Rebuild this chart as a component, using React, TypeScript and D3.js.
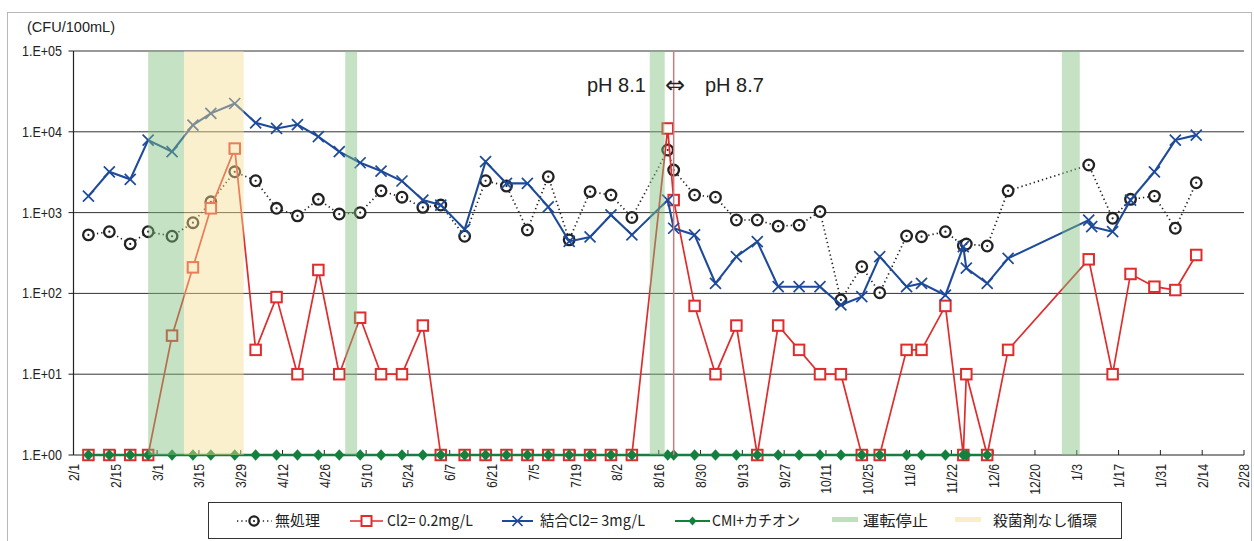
import React from "react";
import * as d3 from "d3";

// ---- data ----
const untreated: [string, number][] = [
  ["2010-02-06", 530], ["2010-02-13", 580], ["2010-02-20", 410], ["2010-02-26", 580],
  ["2010-03-06", 510], ["2010-03-13", 750], ["2010-03-19", 1360], ["2010-03-27", 3200],
  ["2010-04-03", 2480], ["2010-04-10", 1130], ["2010-04-17", 910], ["2010-04-24", 1460],
  ["2010-05-01", 960], ["2010-05-08", 1000], ["2010-05-15", 1860], ["2010-05-22", 1550],
  ["2010-05-29", 1160], ["2010-06-04", 1240], ["2010-06-12", 510], ["2010-06-19", 2480],
  ["2010-06-26", 2130], ["2010-07-03", 610], ["2010-07-10", 2780], ["2010-07-17", 460],
  ["2010-07-24", 1820], ["2010-07-31", 1650], ["2010-08-07", 870], ["2010-08-19", 5950],
  ["2010-08-21", 3360], ["2010-08-28", 1650], ["2010-09-04", 1550], ["2010-09-11", 810],
  ["2010-09-18", 810], ["2010-09-25", 680], ["2010-10-02", 700], ["2010-10-09", 1030],
  ["2010-10-16", 83], ["2010-10-23", 214], ["2010-10-29", 102], ["2010-11-07", 513],
  ["2010-11-12", 503], ["2010-11-20", 580], ["2010-11-26", 390], ["2010-11-27", 408],
  ["2010-12-04", 386], ["2010-12-11", 1860], ["2011-01-07", 3880], ["2011-01-15", 850],
  ["2011-01-21", 1460], ["2011-01-29", 1600], ["2011-02-05", 640], ["2011-02-12", 2340],
];

const cl02: [string, number][] = [
  ["2010-02-06", 1], ["2010-02-13", 1], ["2010-02-20", 1], ["2010-02-26", 1],
  ["2010-03-06", 30], ["2010-03-13", 210], ["2010-03-19", 1130], ["2010-03-27", 6200],
  ["2010-04-03", 20], ["2010-04-10", 90], ["2010-04-17", 10], ["2010-04-24", 195],
  ["2010-05-01", 10], ["2010-05-08", 50], ["2010-05-15", 10], ["2010-05-22", 10],
  ["2010-05-29", 40], ["2010-06-04", 1], ["2010-06-12", 1], ["2010-06-19", 1],
  ["2010-06-26", 1], ["2010-07-03", 1], ["2010-07-10", 1], ["2010-07-17", 1],
  ["2010-07-24", 1], ["2010-07-31", 1], ["2010-08-07", 1], ["2010-08-19", 11000],
  ["2010-08-21", 1430], ["2010-08-28", 70], ["2010-09-04", 10], ["2010-09-11", 40],
  ["2010-09-18", 1], ["2010-09-25", 40], ["2010-10-02", 20], ["2010-10-09", 10],
  ["2010-10-16", 10], ["2010-10-23", 1], ["2010-10-29", 1], ["2010-11-07", 20],
  ["2010-11-12", 20], ["2010-11-20", 70], ["2010-11-26", 1], ["2010-11-27", 10],
  ["2010-12-04", 1], ["2010-12-11", 20], ["2011-01-07", 264], ["2011-01-15", 10],
  ["2011-01-21", 174], ["2011-01-29", 121], ["2011-02-05", 110], ["2011-02-12", 299],
];

const combinedCl3: [string, number][] = [
  ["2010-02-06", 1600], ["2010-02-13", 3200], ["2010-02-20", 2580], ["2010-02-26", 7900],
  ["2010-03-06", 5670], ["2010-03-13", 12100], ["2010-03-19", 16900], ["2010-03-27", 22400],
  ["2010-04-03", 12900], ["2010-04-10", 11000], ["2010-04-17", 12300], ["2010-04-24", 8700],
  ["2010-05-01", 5670], ["2010-05-08", 4140], ["2010-05-15", 3270], ["2010-05-22", 2460],
  ["2010-05-29", 1430], ["2010-06-04", 1240], ["2010-06-12", 620], ["2010-06-19", 4270],
  ["2010-06-26", 2300], ["2010-07-03", 2300], ["2010-07-10", 1180], ["2010-07-17", 440],
  ["2010-07-24", 500], ["2010-07-31", 935], ["2010-08-07", 530], ["2010-08-19", 1430],
  ["2010-08-21", 640], ["2010-08-28", 530], ["2010-09-04", 133], ["2010-09-11", 285],
  ["2010-09-18", 437], ["2010-09-25", 121], ["2010-10-02", 121], ["2010-10-09", 121],
  ["2010-10-16", 72], ["2010-10-23", 91], ["2010-10-29", 285], ["2010-11-07", 121],
  ["2010-11-12", 133], ["2010-11-20", 95], ["2010-11-26", 379], ["2010-11-27", 205],
  ["2010-12-04", 133], ["2010-12-11", 272], ["2011-01-07", 809], ["2011-01-08", 670],
  ["2011-01-15", 580], ["2011-01-21", 1430], ["2011-01-29", 3200], ["2011-02-05", 7900],
  ["2011-02-12", 9100],
];

const cmiCation: [string, number][] = [
  ["2010-02-06", 1], ["2010-02-13", 1], ["2010-02-20", 1], ["2010-02-26", 1],
  ["2010-03-06", 1], ["2010-03-13", 1], ["2010-03-19", 1], ["2010-03-27", 1],
  ["2010-04-03", 1], ["2010-04-10", 1], ["2010-04-17", 1], ["2010-04-24", 1],
  ["2010-05-01", 1], ["2010-05-08", 1], ["2010-05-15", 1], ["2010-05-22", 1],
  ["2010-05-29", 1], ["2010-06-04", 1], ["2010-06-12", 1], ["2010-06-19", 1],
  ["2010-06-26", 1], ["2010-07-03", 1], ["2010-07-10", 1], ["2010-07-17", 1],
  ["2010-07-24", 1], ["2010-07-31", 1], ["2010-08-07", 1], ["2010-08-19", 1],
  ["2010-08-21", 1], ["2010-08-28", 1], ["2010-09-04", 1], ["2010-09-11", 1],
  ["2010-09-18", 1], ["2010-09-25", 1], ["2010-10-02", 1], ["2010-10-09", 1],
  ["2010-10-16", 1], ["2010-10-23", 1], ["2010-10-29", 1], ["2010-11-07", 1],
  ["2010-11-12", 1], ["2010-11-20", 1], ["2010-11-26", 1], ["2010-11-27", 1],
  ["2010-12-04", 1],
];

// shaded periods
const stopPeriods: [string, string][] = [
  ["2010-02-26", "2010-03-10"],
  ["2010-05-03", "2010-05-07"],
  ["2010-08-13", "2010-08-18"],
  ["2010-12-29", "2011-01-04"],
];
const noBiocidePeriods: [string, string][] = [["2010-03-10", "2010-03-30"]];
const phChangeDate = "2010-08-21";

const axisStart = "2010-02-01";
const axisEnd = "2011-02-28";
const xTickLabels = [
  "2/1", "2/15", "3/1", "3/15", "3/29", "4/12", "4/26", "5/10", "5/24", "6/7",
  "6/21", "7/5", "7/19", "8/2", "8/16", "8/30", "9/13", "9/27", "10/11", "10/25",
  "11/8", "11/22", "12/6", "12/20", "1/3", "1/17", "1/31", "2/14", "2/28",
];
const yTickValues = [1, 10, 100, 1000, 10000, 100000];
const yTickLabels = ["1.E+00", "1.E+01", "1.E+02", "1.E+03", "1.E+04", "1.E+05"];

const legendLabels = ["無処理", "Cl2= 0.2mg/L", "結合Cl2= 3mg/L", "CMI+カチオン", "運転停止", "殺菌剤なし循環"];

// ---- styling ----
const W = 1254, H = 541;
const LATIN = "'Liberation Sans', Arial, sans-serif";
const JP = "'Noto Sans CJK JP', 'Noto Sans', sans-serif";
const C_BLACK = "#222222";
const C_RED = "#e02c2c";
const C_BLUE = "#1d4a9b";
const C_GREEN = "#15803e";
const C_STOP = "rgb(128,191,124)";
const C_NOBIO = "rgb(244,222,144)";

const parse = d3.utcParse("%Y-%m-%d");
const pd = (s: string) => parse(s) as Date;

export default function App() {
  const x = d3.scaleUtc().domain([pd(axisStart), pd(axisEnd)]).range([73.5, 1244]);
  const y = d3.scaleLog().domain([1, 100000]).range([455, 51]);
  const x0 = x.range()[0], x1 = x.range()[1];
  const yTop = y(100000), yBot = y(1);

  const line = d3
    .line<[string, number]>()
    .x((d) => x(pd(d[0])))
    .y((d) => y(d[1]));

  const tickDates = xTickLabels.map((_, i) => d3.utcDay.offset(pd(axisStart), i * 14));

  const circleMarker = (cx: number, cy: number, key: any, r = 5.3) => (
    <g key={key}>
      <circle cx={cx} cy={cy} r={r} fill="#fff" stroke={C_BLACK} strokeWidth={2.3} />
      <circle cx={cx} cy={cy} r={1.1} fill={C_BLACK} />
    </g>
  );
  const squareMarker = (cx: number, cy: number, key: any, s = 10.5) => (
    <rect key={key} x={cx - s / 2} y={cy - s / 2} width={s} height={s} fill="#fff" stroke={C_RED} strokeWidth={2} />
  );
  const xMarker = (cx: number, cy: number, key: any, s = 5.5) => (
    <path key={key} d={`M${cx - s},${cy - s}L${cx + s},${cy + s}M${cx - s},${cy + s}L${cx + s},${cy - s}`} stroke={C_BLUE} strokeWidth={1.7} fill="none" />
  );
  const diamondMarker = (cx: number, cy: number, key: any, s = 5.2) => (
    <path key={key} d={`M${cx},${cy - s - 0.6}L${cx + s},${cy}L${cx},${cy + s + 0.6}L${cx - s},${cy}Z`} fill={C_GREEN} />
  );

  const ly = 521;

  return (
    <svg width={W} height={H} style={{ position: "absolute", left: 0, top: 0, background: "#fff" }}>
      <rect x={0} y={0} width={W} height={H} fill="#fff" />
      {/* outer frame */}
      <rect x={7.5} y={12.5} width={1244} height={540} fill="none" stroke="#b8b8b8" strokeWidth={1} />

      {/* unit */}
      <text x={27} y={32} fontFamily={LATIN} fontSize={14} fill="#222" textLength={88} lengthAdjust="spacingAndGlyphs">
        (CFU/100mL)
      </text>

      {/* gridlines */}
      {yTickValues.slice(1).map((v) => (
        <line key={v} x1={x0} x2={x1} y1={y(v)} y2={y(v)} stroke="#333" strokeWidth={1} />
      ))}

      {/* y axis */}
      <line x1={x0} x2={x0} y1={yTop} y2={yBot} stroke="#222" strokeWidth={1.2} />
      {yTickValues.map((v, i) => (
        <g key={v}>
          <line x1={x0 - 5} x2={x0} y1={y(v)} y2={y(v)} stroke="#222" strokeWidth={1} />
          <text x={62} y={y(v)} dy="0.36em" textAnchor="end" fontFamily={LATIN} fontSize={14} fill="#222" textLength={40} lengthAdjust="spacingAndGlyphs">
            {yTickLabels[i]}
          </text>
        </g>
      ))}

      {/* x axis */}
      <line x1={x0} x2={x1} y1={yBot} y2={yBot} stroke="#222" strokeWidth={1.2} />
      {tickDates.map((d, i) => (
        <g key={i}>
          <line x1={x(d)} x2={x(d)} y1={yBot - 5} y2={yBot} stroke="#222" strokeWidth={1} />
          <text
            transform={`translate(${x(d)},${yBot + 9}) rotate(-90) scale(0.82,1)`}
            textAnchor="end"
            dy="0.36em"
            fontFamily={LATIN}
            fontSize={15}
            fill="#222"
          >
            {xTickLabels[i]}
          </text>
        </g>
      ))}

      {/* series: untreated */}
      <path d={line(untreated) || ""} fill="none" stroke={C_BLACK} strokeWidth={1.7} strokeDasharray="1.3 3" />
      {untreated.map((d, i) => circleMarker(x(pd(d[0])), y(d[1]), "u" + i))}

      {/* Cl2 0.2 */}
      <path d={line(cl02) || ""} fill="none" stroke={C_RED} strokeWidth={1.7} />
      {cl02.map((d, i) => squareMarker(x(pd(d[0])), y(d[1]), "r" + i))}

      {/* combined Cl2 3 */}
      <path d={line(combinedCl3) || ""} fill="none" stroke={C_BLUE} strokeWidth={2.1} />
      {combinedCl3.map((d, i) => xMarker(x(pd(d[0])), y(d[1]), "b" + i))}

      {/* CMI + cation */}
      <path d={line(cmiCation) || ""} fill="none" stroke={C_GREEN} strokeWidth={2.4} />
      {cmiCation.map((d, i) => diamondMarker(x(pd(d[0])), y(d[1]), "g" + i))}

      {/* shaded periods (translucent, over the data) */}
      {stopPeriods.map((p, i) => (
        <rect key={"s" + i} x={x(pd(p[0]))} y={yTop} width={x(pd(p[1])) - x(pd(p[0]))} height={yBot - yTop} fill={C_STOP} opacity={0.45} />
      ))}
      {noBiocidePeriods.map((p, i) => (
        <rect key={"n" + i} x={x(pd(p[0]))} y={yTop} width={x(pd(p[1])) - x(pd(p[0]))} height={yBot - yTop} fill={C_NOBIO} opacity={0.45} />
      ))}

      {/* pH change line */}
      <line x1={x(pd(phChangeDate))} x2={x(pd(phChangeDate))} y1={yTop} y2={yBot} stroke="rgb(200,125,125)" strokeWidth={1.5} />
      <text x={587} y={92} fontFamily={LATIN} fontSize={20} fill="#222">pH 8.1</text>
      <text x={675} y={93} textAnchor="middle" fontFamily="'DejaVu Sans', sans-serif" fontSize={24} fill="#222">⇔</text>
      <text x={705} y={92} fontFamily={LATIN} fontSize={20} fill="#222">pH 8.7</text>

      {/* legend */}
      <rect x={208.5} y={502.5} width={913} height={36} fill="#fff" stroke="#333" strokeWidth={1} />
      <line x1={237} x2={272} y1={ly} y2={ly} stroke={C_BLACK} strokeWidth={1.7} strokeDasharray="1.3 3" />
      {circleMarker(254, ly, "lu", 4.6)}
      <text x={275} y={ly} dy="0.36em" fontFamily={JP} fontSize={15} fill="#222" textLength={45} lengthAdjust="spacingAndGlyphs">{legendLabels[0]}</text>

      <line x1={350} x2={383} y1={ly} y2={ly} stroke={C_RED} strokeWidth={1.7} />
      {squareMarker(366.5, ly, "lr", 10)}
      <text x={387} y={ly} dy="0.36em" fontFamily={JP} fontSize={15} fill="#222" textLength={86} lengthAdjust="spacingAndGlyphs">{legendLabels[1]}</text>

      <line x1={502} x2={533} y1={ly} y2={ly} stroke={C_BLUE} strokeWidth={2} />
      {xMarker(517.5, ly, "lb", 5)}
      <text x={540} y={ly} dy="0.36em" fontFamily={JP} fontSize={15} fill="#222" textLength={105} lengthAdjust="spacingAndGlyphs">{legendLabels[2]}</text>

      <line x1={675} x2={710} y1={ly} y2={ly} stroke={C_GREEN} strokeWidth={2} />
      {diamondMarker(692.5, ly, "lg", 4)}
      <text x={712} y={ly} dy="0.36em" fontFamily={JP} fontSize={15} fill="#222" textLength={88} lengthAdjust="spacingAndGlyphs">{legendLabels[3]}</text>

      <rect x={832} y={517} width={26} height={5} fill={C_STOP} opacity={0.5} />
      <text x={863} y={ly} dy="0.36em" fontFamily={JP} fontSize={15} fill="#222" textLength={65} lengthAdjust="spacingAndGlyphs">{legendLabels[4]}</text>

      <rect x={955} y={517} width={26} height={5} fill={C_NOBIO} opacity={0.5} />
      <text x={993} y={ly} dy="0.36em" fontFamily={JP} fontSize={15} fill="#222" textLength={104} lengthAdjust="spacingAndGlyphs">{legendLabels[5]}</text>
    </svg>
  );
}
